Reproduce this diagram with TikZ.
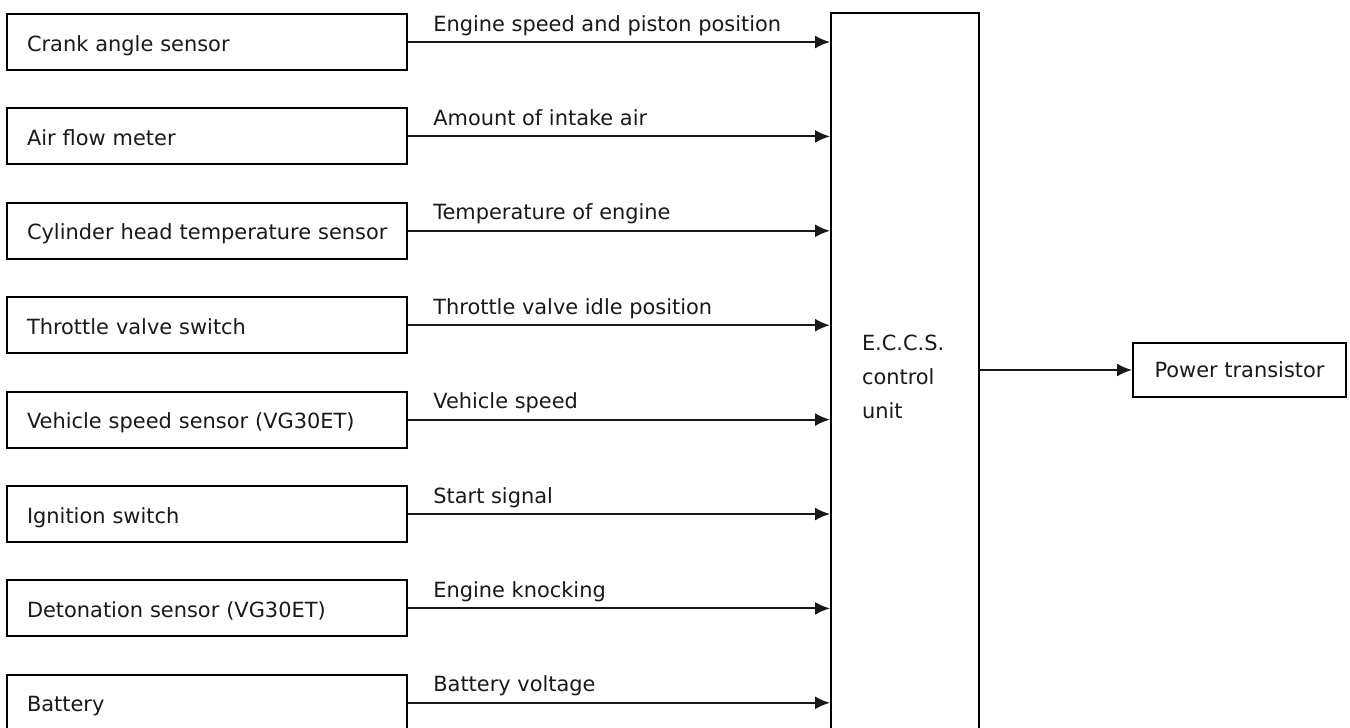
\documentclass[tikz,border=0pt]{standalone}
\usepackage{fontspec}
\setmainfont{DejaVu Sans}
\usetikzlibrary{arrows.meta,positioning,calc}

\begin{document}
\begin{tikzpicture}[
    box/.style={draw, line width=1.1pt, minimum width=8cm, minimum height=1.12cm, inner xsep=0.4cm, text width=7.2cm, text height=0.38cm, text depth=0.02cm, align=left, font=\fontsize{11.9}{14}\selectfont, text=black!90},
    sig/.style={anchor=base west, font=\fontsize{11.9}{14}\selectfont, text=black!90, inner sep=0pt},
    arr/.style={-{Latex[length=3mm, width=2.6mm]}, line width=1.2pt, black!90},
]
\useasboundingbox (0,0) rectangle (27,-14.54);

% Sensors feeding the control unit
\node[box] (crank) at (4.14,-0.84) {Crank angle sensor};
\node[box] (afm) at (4.14,-2.728) {Air flow meter};
\node[box] (cht) at (4.14,-4.616) {\mbox{Cylinder head temperature sensor}};
\node[box] (thr) at (4.14,-6.504) {Throttle valve switch};
\node[box] (vss) at (4.14,-8.392) {Vehicle speed sensor (VG30ET)};
\node[box] (ign) at (4.14,-10.28) {Ignition switch};
\node[box] (det) at (4.14,-12.168) {Detonation sensor (VG30ET)};
\node[box] (batt) at (4.14,-14.056) {Battery};

\node[draw, line width=1.1pt, minimum width=2.96cm, minimum height=14.54cm, inner xsep=0.62cm, text width=1.72cm, align=left, font=\fontsize{11.9}{19.3}\selectfont, text=black!90] (ecu) at (18.1,-7.53) {E.C.C.S.\\control\\unit};

\node[draw, line width=1.1pt, minimum width=4.26cm, minimum height=1.08cm, font=\fontsize{11.9}{14}\selectfont, text=black!90] (pwr) at (24.79,-7.4) {Power transistor};

\draw[arr] (crank) -- (crank -| ecu.west);
\draw[arr] (afm) -- (afm -| ecu.west);
\draw[arr] (cht) -- (cht -| ecu.west);
\draw[arr] (thr) -- (thr -| ecu.west);
\draw[arr] (vss) -- (vss -| ecu.west);
\draw[arr] (ign) -- (ign -| ecu.west);
\draw[arr] (det) -- (det -| ecu.west);
\draw[arr] (batt) -- (batt -| ecu.west);
\draw[arr] (ecu.east |- pwr.west) -- (pwr.west);

\node[sig] at (8.66,-0.62) {Engine speed and piston position};
\node[sig] at (8.66,-2.508) {Amount of intake air};
\node[sig] at (8.66,-4.396) {Temperature of engine};
\node[sig] at (8.66,-6.284) {Throttle valve idle position};
\node[sig] at (8.66,-8.172) {Vehicle speed};
\node[sig] at (8.66,-10.06) {Start signal};
\node[sig] at (8.66,-11.948) {Engine knocking};
\node[sig] at (8.66,-13.836) {Battery voltage};
\end{tikzpicture}
\end{document}
